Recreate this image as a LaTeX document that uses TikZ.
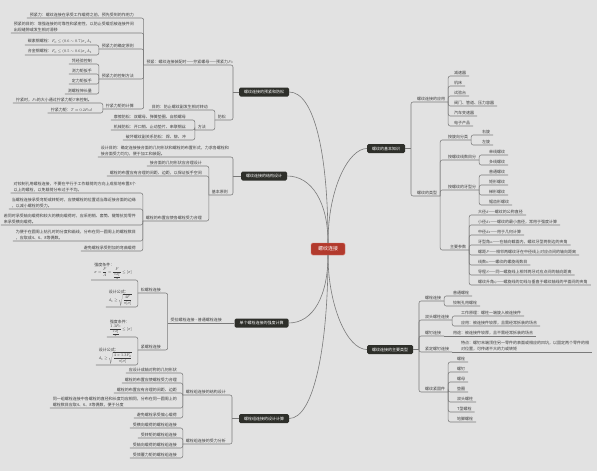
\documentclass[tikz,border=0pt]{standalone}
\usepackage{amsmath}
\usepackage{fontspec}
\setmainfont{Noto Sans CJK SC}
\definecolor{bgc}{HTML}{E2E2E2}
\definecolor{boxc}{HTML}{2E2F2A}
\definecolor{rootc}{HTML}{B23A2D}
\definecolor{rootb}{HTML}{D8796D}
\definecolor{linec}{HTML}{7A7A7A}
\definecolor{txtc}{HTML}{3C3C3C}
\newcommand{\mapfont}{\fontsize{8}{12}\selectfont}
\newcommand{\mathfont}{\fontsize{8}{10}\selectfont}
\newcommand{\rootfont}{\fontsize{10}{12}\selectfont}
\tikzset{
  rootbox/.style={fill=rootc, draw=rootb, line width=0.8pt, rounded corners=3pt, text=white, font=\rootfont, inner xsep=14pt, minimum height=24pt},
  topicbox/.style={fill=boxc, rounded corners=3pt, text=white, font=\mapfont, inner xsep=10pt, minimum height=18pt},
  leaf/.style={text=txtc, font=\mapfont, inner xsep=6pt, inner ysep=2pt, align=left},
  formula/.style={leaf, font=\mathfont, inner ysep=1pt},
  uline/.style={draw=linec, line width=1.1pt, rounded corners=4pt},
  branchline/.style={draw=linec, line width=1.2pt},
}
\begin{document}
\begin{tikzpicture}[x=2pt, y=-2pt]
  \fill[bgc] (0,0) rectangle (597,471);
  \useasboundingbox (0,0) rectangle (597,471);

  \node[rootbox] (root) at (328,249) {螺纹连接};

  % 预紧和防松
  \node[topicbox] (b1) at (264,92) {螺纹连接的预紧和防松};
  \coordinate (k1) at (233,92);
  \node[leaf, anchor=south east] (n11) at (236,65) {预紧：螺纹连接装配时——拧紧螺母——预紧力$F_0$};
  \node[leaf, anchor=south east] (n111) at (137,18) {预紧力：螺纹连接在承受工作载荷之前，预先受到的作用力};
  \node[leaf, anchor=south east] (n112) at (137,33) {预紧的目的：增强连接的可靠性和紧密性，以防止受载后被连接件间\\出现缝隙或发生相对滑移};
  \node[leaf, anchor=south east] (n113) at (137,49) {预紧力的确定原则};
  \node[leaf, anchor=south east] (n113a) at (95,45) {碳素钢螺栓：$F_0\le(0.6\sim0.7)\sigma_sA_1$};
  \node[leaf, anchor=south east] (n113b) at (95,55) {合金钢螺栓：$F_0\le(0.5\sim0.6)\sigma_sA_1$};
  \node[leaf, anchor=south east] (n114) at (137,79) {预紧力的控制方法};
  \foreach \lbl [count=\i] in {凭经验控制,测力矩扳手,定力矩扳手,测螺栓伸长量}
    \node[leaf, anchor=south east] (n114\i) at (95,54+10*\i) {\lbl};
  \node[leaf, anchor=south east] (n115) at (137,109) {拧紧力矩的计算};
  \node[leaf, anchor=south east] (n115a) at (95,103) {拧紧时，$F_0$的大小通过拧紧力矩$T$来控制。};
  \node[leaf, anchor=south east] (n115b) at (95,113) {拧紧力矩：$T\approx0.2F_0d$};
  \node[leaf, anchor=south east] (n12) at (229,120) {防松};
  \node[leaf, anchor=south east] (n121) at (211,110) {目的：防止螺纹副发生相对转动};
  \node[leaf, anchor=south east] (n122) at (209,130) {方法};
  \foreach \lbl [count=\i] in {摩擦防松：双螺母、弹簧垫圈、自锁螺母,机械防松：开口销、止动垫片、串联钢丝,破坏螺纹副关系防松：焊、铆、冲}
    \node[leaf, anchor=south east] (n122\i) at (189,110+10*\i) {\lbl};

  \draw[uline] (b1.west) -- (k1);
  \foreach \c in {n11,n12}
    \draw[uline] (k1) -- (k1 |- \c.south east) -- (\c.south west);
  \foreach \c in {n111,n112,n113,n114,n115}
    \draw[uline] (n11.south west) -- (n11.south west |- \c.south east) -- (\c.south west);
  \foreach \c in {n113a,n113b}
    \draw[uline] (n113.south west) -- (n113.south west |- \c.south east) -- (\c.south west);
  \foreach \i in {1,...,4}
    \draw[uline] (n114.south west) -- (n114.south west |- n114\i.south east) -- (n114\i.south west);
  \foreach \c in {n115a,n115b}
    \draw[uline] (n115.south west) -- (n115.south west |- \c.south east) -- (\c.south west);
  \foreach \c in {n121,n122}
    \draw[uline] (n12.south west) -- (n12.south west |- \c.south east) -- (\c.south west);
  \foreach \i in {1,...,3}
    \draw[uline] (n122.south west) -- (n122.south west |- n122\i.south east) -- (n122\i.south west);

  % 结构设计
  \node[topicbox] (b2) at (264,176) {螺纹连接的结构设计};
  \coordinate (k2) at (233,176);
  \node[leaf, anchor=south east] (n21) at (232,157) {设计目的：确定连接接合面的几何形状和螺栓的布置形式，力求各螺栓和\\接合面受力均匀，便于加工和装配。};
  \node[leaf, anchor=south east] (n22) at (231,195) {基本原则};
  \node[leaf, anchor=south east] (n221) at (205,166) {接合面的几何形状应合理设计};
  \node[leaf, anchor=south east] (n222) at (205,176) {螺栓的布置应有合理的间距、边距，以保证扳手空间};
  \node[leaf, anchor=south east] (n223) at (205,221) {螺栓的布置应使各螺栓受力合理};
  \node[leaf, anchor=south east] (n223a) at (139,193) {对铰制孔用螺栓连接，不要在平行于工作载荷的方向上成排地布置8个\\以上的螺栓，以免载荷分布过于不均。};
  \node[leaf, anchor=south east] (n223b) at (139,209) {当螺栓连接承受弯矩或转矩时，应使螺栓的位置适当靠近接合面的边缘\\，以减小螺栓的受力。};
  \node[leaf, anchor=south east] (n223c) at (139,225) {若同时承受轴向载荷和较大的横向载荷时，应采用销、套筒、键等抗剪零件\\来承受横向载荷。};
  \node[leaf, anchor=south east] (n223d) at (139,241) {为便于在圆周上钻孔时的分度和画线，分布在同一圆周上的螺栓数目\\，应取成4、6、8等偶数。};
  \node[leaf, anchor=south east] (n223e) at (139,251) {避免螺栓承受附加的弯曲载荷};

  \draw[uline] (b2.west) -- (k2);
  \foreach \c in {n21,n22}
    \draw[uline] (k2) -- (k2 |- \c.south east) -- (\c.south west);
  \foreach \c in {n221,n222,n223}
    \draw[uline] (n22.south west) -- (n22.south west |- \c.south east) -- (\c.south west);
  \foreach \c in {n223a,n223b,n223c,n223d,n223e}
    \draw[uline] (n223.south west) -- (n223.south west |- \c.south east) -- (\c.south west);

  % 强度计算
  \node[topicbox] (b3) at (261.5,323) {单个螺栓连接的强度计算};
  \node[leaf, anchor=south east] (n31) at (225,323) {受拉螺栓连接 - 普通螺栓连接};
  \node[leaf, anchor=south east] (n311) at (164,293) {松螺栓连接};
  \node[formula, anchor=south east] (n311a) at (135,280) {强度条件：\\$\displaystyle\sigma=\frac{F}{A}=\frac{F}{\frac{\pi d_1^2}{4}}\le[\sigma]$};
  \node[formula, anchor=south east] (n311b) at (135,307) {设计公式：\\$\displaystyle d_1\ge\sqrt{\frac{4F}{\pi[\sigma]}}$};
  \node[leaf, anchor=south east] (n312) at (164,350) {紧螺栓连接};
  \node[formula, anchor=south east] (n312a) at (135,337) {强度条件：\\$\displaystyle\frac{1.3F_0}{\frac{\pi d_1^2}{4}}\le[\sigma]$};
  \node[formula, anchor=south east] (n312b) at (135,365) {设计公式：\\$\displaystyle d_1\ge\sqrt{\frac{4\times1.3F_0}{\pi[\sigma]}}$};

  \draw[uline] (b3.west) -- (n31.south west);
  \foreach \c in {n311,n312}
    \draw[uline] (n31.south west) -- (n31.south west |- \c.south east) -- (\c.south west);
  \foreach \c in {n311a,n311b}
    \draw[uline] (n311.south west) -- (n311.south west |- \c.south east) -- (\c.south west);
  \foreach \c in {n312a,n312b}
    \draw[uline] (n312.south west) -- (n312.south west |- \c.south east) -- (\c.south west);

  % 螺栓组
  \node[topicbox] (b4) at (264,418.5) {螺栓组连接的设计计算};
  \coordinate (k4) at (232,418.5);
  \node[leaf, anchor=south east] (n41) at (229,395) {螺栓组连接的结构设计};
  \node[leaf, anchor=south east] (n411) at (180,373) {应设计成轴对称的几何形状};
  \node[leaf, anchor=south east] (n412) at (180,383) {螺栓的布置应使螺栓受力合理};
  \node[leaf, anchor=south east] (n413) at (180,393) {螺栓的布置应有合理的间距、边距};
  \node[leaf, anchor=south east] (n414) at (180,408) {同一组螺栓连接中各螺栓的直径和长度均应相同，分布在同一圆周上的\\螺栓数目应取4、6、8等偶数，便于分度};
  \node[leaf, anchor=south east] (n415) at (180,418) {避免螺栓承受偏心载荷};
  \node[leaf, anchor=south east] (n42) at (229,444) {螺栓组连接的受力分析};
  \foreach \lbl [count=\i] in {受横向载荷的螺栓组连接,受转矩的螺栓组连接,受轴向载荷的螺栓组连接,受倾覆力矩的螺栓组连接}
    \node[leaf, anchor=south east] (n42\i) at (180,418+10*\i) {\lbl};

  \draw[uline] (b4.west) -- (k4);
  \foreach \c in {n41,n42}
    \draw[uline] (k4) -- (k4 |- \c.south east) -- (\c.south west);
  \foreach \c in {n411,n412,n413,n414,n415}
    \draw[uline] (n41.south west) -- (n41.south west |- \c.south east) -- (\c.south west);
  \foreach \i in {1,...,4}
    \draw[uline] (n42.south west) -- (n42.south west |- n42\i.south east) -- (n42\i.south west);

  % 基本知识
  \node[topicbox] (b5) at (386,148.5) {螺纹的基本知识};
  \coordinate (k5) at (411,148.5);
  \node[leaf, anchor=south west] (n51) at (414,102) {螺纹连接的应用};
  \foreach \lbl [count=\i] in {减速器,机床,试验台,阀门、管道、压力容器,汽车变速器,电子产品}
    \node[leaf, anchor=south west] (n51\i) at (451,66+10*\i) {\lbl};
  \node[leaf, anchor=south west] (n52) at (414,196) {螺纹的类型};
  \node[leaf, anchor=south west] (n521) at (445,140) {按旋向分类};
  \node[leaf, anchor=south west] (n5211) at (479,135) {右旋};
  \node[leaf, anchor=south west] (n5212) at (479,145) {左旋};
  \node[leaf, anchor=south west] (n522) at (445,160) {按螺纹线数目分};
  \node[leaf, anchor=south west] (n5221) at (486,155) {单线螺纹};
  \node[leaf, anchor=south west] (n5222) at (486,165) {多线螺纹};
  \node[leaf, anchor=south west] (n523) at (445,190) {按螺纹的牙型分};
  \foreach \lbl [count=\i] in {普通螺纹,矩形螺纹,梯形螺纹,锯齿形螺纹}
    \node[leaf, anchor=south west] (n523\i) at (486,165+10*\i) {\lbl};
  \node[leaf, anchor=south west] (n524) at (447,250) {主要参数};
  \foreach \lbl [count=\i] in {{大径$d$——螺纹的公称直径},{小径$d_1$——螺纹的最小直径，常用于强度计算},{中径$d_2$——用于几何计算},{牙型角$\alpha$——在轴向截面内，螺纹牙型两侧边的夹角},{螺距$P$——相邻两螺纹牙在中径线上对应点间的轴向距离},{线数$n$——螺纹的螺旋线数目},{导程$S$——同一螺旋线上相邻两牙对应点间的轴向距离},{螺纹升角$\psi$——螺旋线的切线与垂直于螺纹轴线的平面间的夹角}}
    \node[leaf, anchor=south west] (n524\i) at (475,205+10*\i) {\lbl};

  \draw[uline] (b5.east) -- (k5);
  \foreach \c in {n51,n52}
    \draw[uline] (k5) -- (k5 |- \c.south west) -- (\c.south east);
  \foreach \i in {1,...,6}
    \draw[uline] (n51.south east) -- (n51.south east |- n51\i.south west) -- (n51\i.south east);
  \foreach \c in {n521,n522,n523,n524}
    \draw[uline] (n52.south east) -- (n52.south east |- \c.south west) -- (\c.south east);
  \foreach \c in {n5211,n5212}
    \draw[uline] (n521.south east) -- (n521.south east |- \c.south west) -- (\c.south east);
  \foreach \c in {n5221,n5222}
    \draw[uline] (n522.south east) -- (n522.south east |- \c.south west) -- (\c.south east);
  \foreach \i in {1,...,4}
    \draw[uline] (n523.south east) -- (n523.south east |- n523\i.south west) -- (n523\i.south east);
  \foreach \i in {1,...,8}
    \draw[uline] (n524.south east) -- (n524.south east |- n524\i.south west) -- (n524\i.south east);

  % 主要类型
  \node[topicbox] (b6) at (390,349.5) {螺纹连接的主要类型};
  \coordinate (k6) at (419,349.5);
  \node[leaf, anchor=south west] (n61) at (422,301) {螺栓连接};
  \node[leaf, anchor=south west] (n611) at (450,296) {普通螺栓};
  \node[leaf, anchor=south west] (n612) at (450,306) {铰制孔用螺栓};
  \node[leaf, anchor=south west] (n62) at (422,320) {双头螺柱连接};
  \node[leaf, anchor=south west] (n621) at (458,316) {工作原理：螺柱一端旋入被连接件};
  \node[leaf, anchor=south west] (n622) at (458,326) {应用：被连接件较厚，且需经常拆装的场合};
  \node[leaf, anchor=south west] (n63) at (422,336) {螺钉连接};
  \node[leaf, anchor=south west] (n631) at (450,336) {用途：被连接件较厚，且不需经常拆装的场合};
  \node[leaf, anchor=south west] (n64) at (422,352) {紧定螺钉连接};
  \node[leaf, anchor=south west] (n641) at (458,352) {特点：螺钉末端顶住另一零件的表面或相应的凹坑，以固定两个零件的相\\对位置，可传递不大的力或转矩};
  \node[leaf, anchor=south west] (n65) at (422,392) {螺纹紧固件};
  \foreach \lbl [count=\i] in {螺栓,螺钉,螺母,垫圈,双头螺柱,T型螺栓,地脚螺栓}
    \node[leaf, anchor=south west] (n65\i) at (454,352+10*\i) {\lbl};

  \draw[uline] (b6.east) -- (k6);
  \foreach \c in {n61,n62,n63,n64,n65}
    \draw[uline] (k6) -- (k6 |- \c.south west) -- (\c.south east);
  \foreach \c in {n611,n612}
    \draw[uline] (n61.south east) -- (n61.south east |- \c.south west) -- (\c.south east);
  \foreach \c in {n621,n622}
    \draw[uline] (n62.south east) -- (n62.south east |- \c.south west) -- (\c.south east);
  \draw[uline] (n63.south east) -- (n631.south east);
  \draw[uline] (n64.south east) -- (n641.south east);
  \foreach \i in {1,...,7}
    \draw[uline] (n65.south east) -- (n65.south east |- n65\i.south west) -- (n65\i.south east);

  % root to topics
  \draw[branchline] (root.north) .. controls +(0,-90) and +(25,0) .. (b1.east);
  \draw[branchline] (root.north) .. controls +(0,-40) and +(25,0) .. (b2.east);
  \draw[branchline] (root.north) .. controls +(0,-55) and +(-18,0) .. (b5.west);
  \draw[branchline] (root.south) .. controls +(0,40) and +(25,0) .. (b3.east);
  \draw[branchline] (root.south) .. controls +(0,90) and +(25,0) .. (b4.east);
  \draw[branchline] (root.south) .. controls +(0,50) and +(-20,0) .. (b6.west);
\end{tikzpicture}
\end{document}
